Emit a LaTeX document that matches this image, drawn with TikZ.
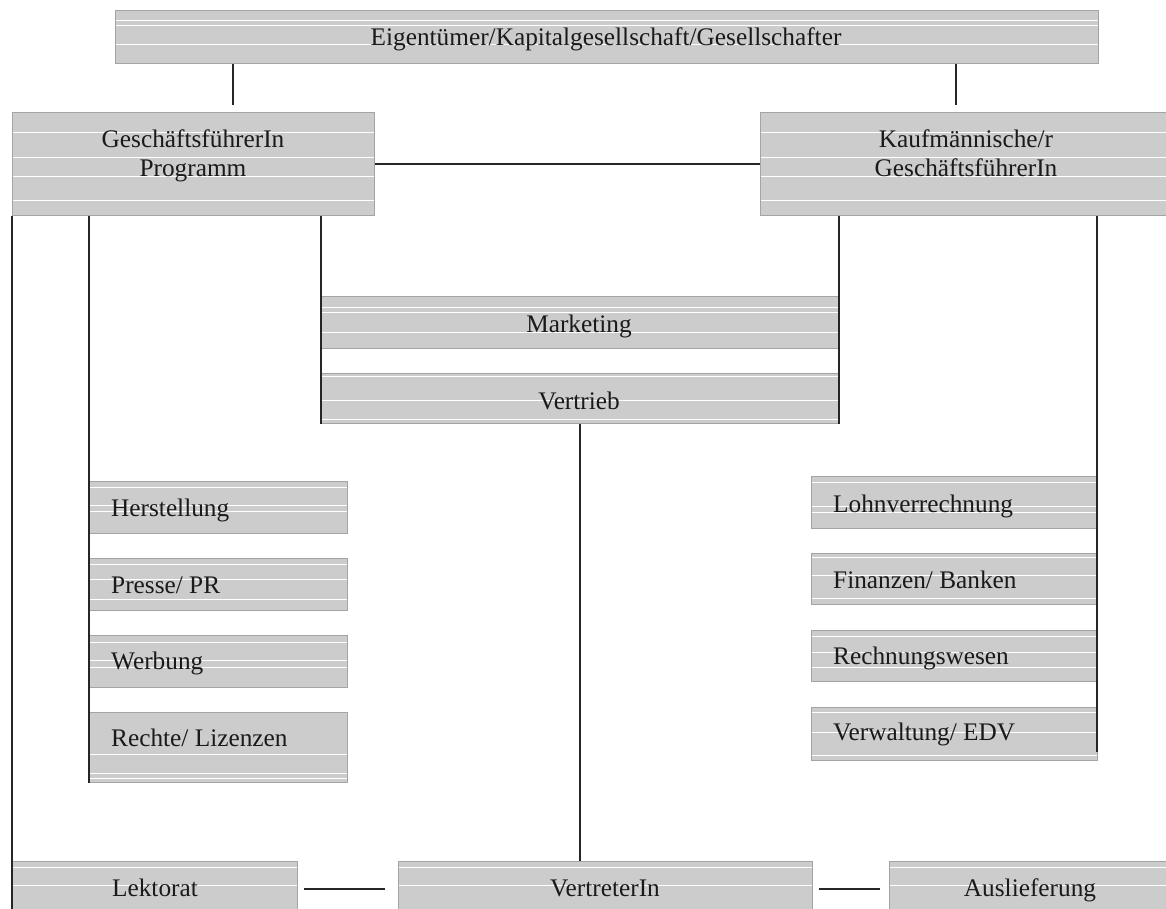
\documentclass[tikz,border=0pt]{standalone}
\usepackage{fontspec}
\setmainfont{Liberation Serif}
\usetikzlibrary{calc}
\definecolor{boxfill}{HTML}{CCCCCC}
\definecolor{boxline}{HTML}{A4A4A4}
\definecolor{txt}{HTML}{1A1A1A}
\begin{document}
\begin{tikzpicture}[x=1pt,y=-1pt,
  gbox/.style={draw=boxline, fill=boxfill, line width=1pt, inner sep=0pt, anchor=north west},
  stripes/.style={path picture={\foreach \s in {#1}{\draw[white,line width=1.4pt] ($(path picture bounding box.north west)+(0,\s)$) -- ($(path picture bounding box.north east)+(0,\s)$);}}},
  lbl/.style={inner sep=0pt, font=\fontsize{25.3}{29}\selectfont, text=txt},
  conn/.style={line width=1.3pt, draw=black!85}]
\useasboundingbox (0,0) rectangle (1166,908);
\clip (0,0) rectangle (1166,908);
% boxes
\node[gbox, stripes={10,15,34}, minimum width=983pt, minimum height=53pt] (top) at (115,10) {};
\node[gbox, stripes={20,45,64,88}, minimum width=362pt, minimum height=103pt] (gfp) at (12,112) {};
\node[gbox, stripes={20,45,64,88}, minimum width=420pt, minimum height=103pt] (kfm) at (760,112) {};
\node[gbox, stripes={11,16,36}, minimum width=517pt, minimum height=52pt] (mkt) at (321,296) {};
\node[gbox, stripes={3,27,46}, minimum width=517pt, minimum height=50pt] (vtr) at (321,373) {};
\node[gbox, stripes={6,24,30}, minimum width=258pt, minimum height=52pt] (her) at (89,481) {};
\node[gbox, stripes={6,21,41}, minimum width=258pt, minimum height=52pt] (pre) at (89,558) {};
\node[gbox, stripes={7,25,32}, minimum width=258pt, minimum height=52pt] (wer) at (89,635) {};
\node[gbox, stripes={42,61,66}, minimum width=258pt, minimum height=70pt] (rec) at (89,712) {};
\node[gbox, stripes={6,30,36}, minimum width=286pt, minimum height=52pt] (loh) at (811,476) {};
\node[gbox, stripes={4,22,45}, minimum width=286pt, minimum height=51pt] (fin) at (811,553) {};
\node[gbox, stripes={6,22,37}, minimum width=286pt, minimum height=51pt] (rwe) at (811,630) {};
\node[gbox, stripes={5,25,48}, minimum width=286pt, minimum height=53pt] (verw) at (811,707) {};
\node[gbox, stripes={6,24}, minimum width=285pt, minimum height=60pt] (lek) at (12,861) {};
\node[gbox, stripes={6,24}, minimum width=414pt, minimum height=60pt] (vtt) at (398,861) {};
\node[gbox, stripes={6,24}, minimum width=290pt, minimum height=60pt] (aus) at (889,861) {};
% labels
\node[lbl, anchor=base] (tTop) at (606,45) {Eigentümer/Kapitalgesellschaft/Gesellschafter};
\node[lbl, anchor=base] (tGfa) at (193,147) {GeschäftsführerIn};
\node[lbl, anchor=base] (tGfb) at (193,176) {Programm};
\node[lbl, anchor=base] (tKfa) at (966,147) {Kaufmännische/r};
\node[lbl, anchor=base] (tKfb) at (966,176) {GeschäftsführerIn};
\node[lbl, anchor=base] (tMkt) at (579,332) {Marketing};
\node[lbl, anchor=base] (tVtr) at (579,409) {Vertrieb};
\node[lbl, anchor=base west] (tHer) at (111,516) {Herstellung};
\node[lbl, anchor=base west] (tPre) at (111,593) {Presse/ PR};
\node[lbl, anchor=base west] (tWer) at (111,669) {Werbung};
\node[lbl, anchor=base west] (tRec) at (111,746) {Rechte/ Lizenzen};
\node[lbl, anchor=base west] (tLoh) at (833,512) {Lohnverrechnung};
\node[lbl, anchor=base west] (tFin) at (833,588) {Finanzen/ Banken};
\node[lbl, anchor=base west] (tRwe) at (833,664) {Rechnungswesen};
\node[lbl, anchor=base west] (tVerw) at (833,740) {Verwaltung/ EDV};
\node[lbl, anchor=base] (tLek) at (155,896) {Lektorat};
\node[lbl, anchor=base] (tVtt) at (605,896) {VertreterIn};
\node[lbl, anchor=base] (tAus) at (1030,896) {Auslieferung};
% connectors
\coordinate (cL) at (233,105);
\coordinate (cR) at (956,105);
\draw[conn] (cL |- top.south) -- (cL);
\draw[conn] (cR |- top.south) -- (cR);
\draw[conn] (gfp) -- (kfm);
\draw[conn] (gfp.south west) -- (lek.south west);
\draw[conn] (gfp.south -| her.west) -- (rec.south west);
\draw[conn] (gfp.south -| mkt.west) -- (vtr.south west);
\draw[conn] (kfm.south -| mkt.east) -- (vtr.south east);
\coordinate (cV) at (1097,752);
\draw[conn] (kfm.south -| cV) -- (cV);
\coordinate (cT) at (580,0);
\draw[conn] (vtr.south -| cT) -- (vtt.north -| cT);
\draw[conn] ($(lek.north east)+(6,28)$) -- ($(vtt.north west)+(-13,28)$);
\draw[conn] ($(vtt.north east)+(6,28)$) -- ($(aus.north west)+(-9,28)$);
\end{tikzpicture}
\end{document}
